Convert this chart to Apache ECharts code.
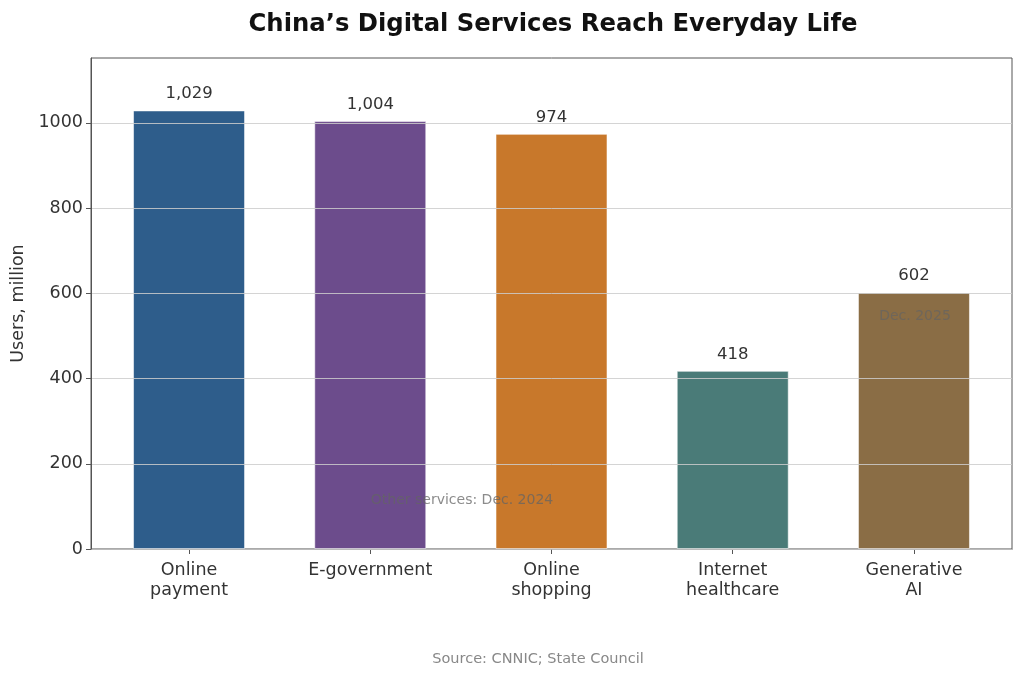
<!DOCTYPE html>
<html>
<head>
<meta charset="utf-8">
<script src="https://cdn.jsdelivr.net/npm/echarts@6/dist/echarts.min.js"></script>
<style>
  html, body { margin: 0; padding: 0; background: #fff; }
  #chart { width: 1024px; height: 678px; }
</style>
</head>
<body>
<div id="chart"></div>
<script>
  // values
  const categories = ['Online\npayment', 'E-government', 'Online\nshopping', 'Internet\nhealthcare', 'Generative\nAI']
  const users = [1029, 1004, 974, 418, 602]
  const barColors = ['#2E5D8B', '#6C4C8C', '#C8782B', '#4A7B78', '#8A6D45']
  const yTicks = [0, 200, 400, 600, 800, 1000]

  const font = 'DejaVu Sans'
  const catIndex = categories.map((c, i) => i)
  const chart = echarts.init(document.getElementById('chart'))

  chart.setOption({
    animation: false,
    textStyle: { fontFamily: font },
    title: {
      text: 'China\u2019s Digital Services Reach Everyday Life',
      left: 548,
      textAlign: 'center',
      top: 8,
      textStyle: { fontFamily: font, fontSize: 24.3, fontWeight: 'bold', color: '#111' },
    },
    grid: {
      left: 91,
      right: 12,
      top: 58,
      bottom: 129,
      show: true,
      borderColor: '#555',
      borderWidth: 1,
    },
    // value axis so the side margins match the reference (xlim about -0.54..4.54)
    xAxis: {
      type: 'value',
      min: -0.541,
      max: 4.541,
      splitLine: { show: false },
      axisLine: { lineStyle: { color: '#555' } },
      axisTick: { show: true, customValues: catIndex, length: 5, lineStyle: { color: '#555' } },
      axisLabel: {
        customValues: catIndex,
        formatter: (v) => categories[Math.round(v)],
        fontSize: 17.5,
        color: '#333',
        lineHeight: 20,
        margin: 11,
      },
    },
    yAxis: {
      type: 'value',
      min: 0,
      max: 1152,
      z: 3,
      name: 'Users, million',
      nameLocation: 'middle',
      nameGap: 62,
      nameTextStyle: { fontSize: 17.5, color: '#333' },
      axisLine: { show: true, onZero: false, lineStyle: { color: '#555' } },
      axisTick: { show: true, customValues: yTicks, length: 5, lineStyle: { color: '#555' } },
      axisLabel: { customValues: yTicks, fontSize: 17.5, color: '#333', margin: 8, formatter: (v) => String(v) },
      splitLine: { lineStyle: { color: 'rgba(205,205,205,0.85)', width: 1 } },
    },
    series: [
      {
        type: 'bar',
        barWidth: 112,
        data: users.map((v, i) => ({
          value: [i, v],
          itemStyle: { color: barColors[i], borderColor: 'rgba(255,255,255,0.55)', borderWidth: 1 },
        })),
        label: {
          show: true,
          position: 'top',
          distance: 8,
          fontSize: 16.5,
          color: '#333',
          formatter: (p) => p.value[1].toLocaleString('en-US'),
        },
      },
    ],
    graphic: [
      {
        type: 'text',
        x: 462,
        y: 500,
        z: 100,
        style: { text: 'Other services: Dec. 2024', fontFamily: font, fontSize: 14, fill: 'rgba(100,100,100,0.75)', align: 'center', verticalAlign: 'middle' },
      },
      {
        type: 'text',
        x: 915,
        y: 316,
        z: 100,
        style: { text: 'Dec. 2025', fontFamily: font, fontSize: 14, fill: 'rgba(100,100,100,0.7)', align: 'center', verticalAlign: 'middle' },
      },
      {
        type: 'text',
        x: 538,
        y: 659,
        z: 100,
        style: { text: 'Source: CNNIC; State Council', fontFamily: font, fontSize: 14.5, fill: '#888', align: 'center', verticalAlign: 'middle' },
      },
    ],
  })
</script>
</body>
</html>
